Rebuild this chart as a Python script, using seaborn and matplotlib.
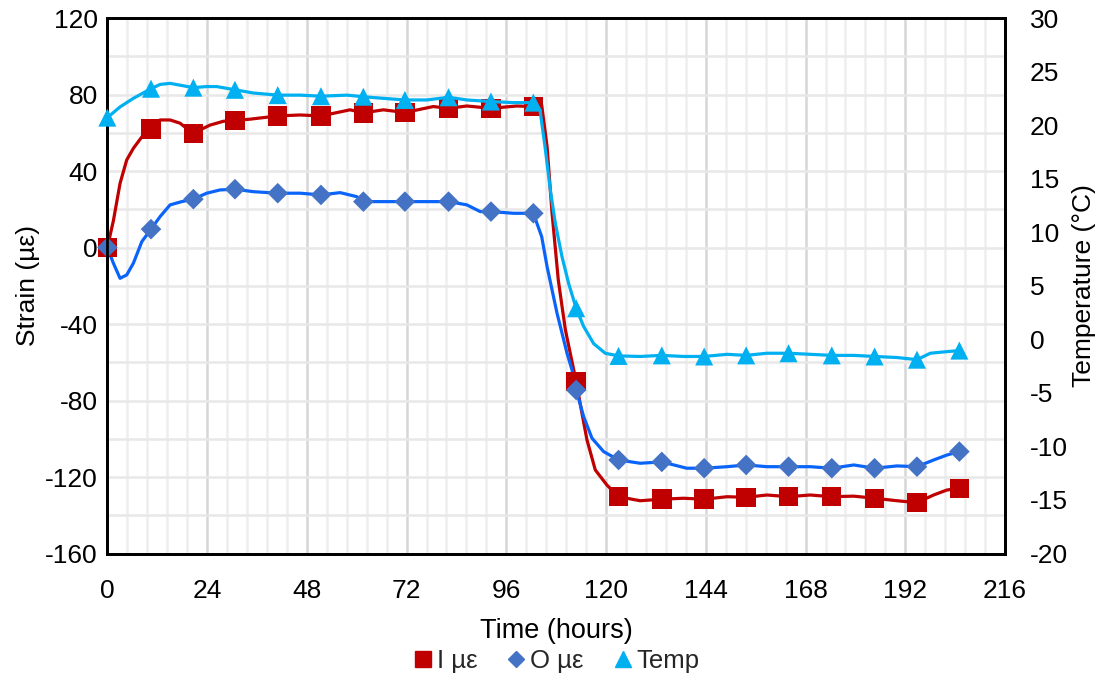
import matplotlib
matplotlib.use("Agg")
import matplotlib.pyplot as plt
import seaborn as sns
from matplotlib.lines import Line2D
from matplotlib.ticker import MultipleLocator

# ---- traces (hours, values) ----
I_hours = [0, 1.45, 3.06, 4.66, 6.27, 8.66, 10.5, 12.7, 15.1, 17.5, 20.7, 22.3, 24.7,
           27.9, 30.7, 34.3, 41.0, 46.4, 51.4, 58.4, 61.6, 66.4, 71.6, 78.4, 82.1, 86.5,
           92.3, 98.5, 102.5, 104.5, 105.8, 107.0, 108.5, 110.2, 112.8, 114.2, 115.4,
           117.4, 120.2, 123.0, 128.2, 133.4, 138.6, 143.6, 149.1, 153.7, 158.7, 163.9,
           169.1, 174.3, 179.6, 184.6, 190.0, 194.8, 198.8, 202.0, 205.0]
I_strain = [0, 14, 33.6, 45.8, 51.9, 58.9, 62.0, 66.7, 66.7, 65.0, 59.5, 61.5, 64.0,
            66.0, 66.4, 67.1, 68.8, 69.3, 68.8, 72.0, 70.4, 72.0, 70.6, 73.7, 72.8, 74.0,
            72.8, 74.0, 73.7, 74.6, 52.8, 17.9, -17.0, -43.0, -70.1, -86.7, -100.6,
            -116.3, -124.2, -130.3, -132.4, -131.6, -131.1, -131.6, -130.3, -130.6, -129.4,
            -130.3, -129.4, -130.3, -130.0, -131.1, -132.4, -133.4, -129.4, -126.8, -125.9]

O_hours = [0, 1.45, 3.06, 4.67, 6.26, 8.3, 10.5, 12.7, 15.1, 17.9, 20.7, 23.9, 27.1,
           30.7, 35.1, 41.0, 46.4, 51.4, 56.0, 60.0, 61.6, 66.4, 71.6, 76.9, 82.1, 86.5,
           89.7, 92.3, 97.7, 102.5, 104.5, 105.8, 107.0, 108.2, 109.4, 110.6, 111.8,
           112.8, 114.6, 116.6, 119.4, 123.0, 128.2, 133.4, 139.4, 143.6, 149.1, 153.7,
           158.7, 163.9, 169.1, 174.3, 179.6, 184.6, 190.0, 194.8, 198.8, 202.0, 205.0]
O_strain = [0, -8.2, -16.1, -14.3, -8.2, 3.1, 9.6, 16.2, 22.3, 24.0, 25.3, 28.4, 30.1,
            30.5, 29.2, 28.4, 28.4, 27.5, 28.7, 26.6, 24.0, 24.0, 24.0, 24.0, 24.0, 22.3,
            18.8, 18.8, 17.9, 17.9, 5.7, -10.0, -22.2, -34.4, -44.8, -55.3, -64.0,
            -74.5, -88.4, -99.7, -106.7, -111.1, -112.8, -112.1, -115.4, -115.4, -114.6,
            -113.7, -114.6, -114.6, -114.6, -115.4, -113.7, -115.4, -114.2, -114.6, -111.1,
            -108.5, -106.7]

T_hours = [0, 3.06, 6.26, 10.5, 12.7, 15.1, 17.9, 20.7, 23.9, 26.3, 30.7, 35.1, 41.0,
           46.4, 51.4, 57.7, 61.6, 66.4, 71.6, 76.9, 82.1, 86.5, 92.3, 97.7, 102.5, 104.1,
           105.3, 106.6, 107.8, 109.4, 111.0, 112.8, 114.6, 117.0, 119.8, 123.0, 128.2,
           133.4, 138.6, 143.6, 149.1, 153.7, 158.7, 163.9, 169.1, 174.3, 179.6, 184.6,
           190.0, 194.8, 198.0, 202.0, 205.0]
T_deg = [20.7, 21.7, 22.5, 23.4, 23.8, 23.9, 23.7, 23.5, 23.6, 23.6, 23.3, 23.0, 22.8,
         22.8, 22.7, 22.8, 22.65, 22.5, 22.35, 22.35, 22.6, 22.35, 22.2, 22.1, 22.1, 21.4,
         18.0, 13.9, 10.8, 7.7, 5.2, 2.9, 1.2, -0.4, -1.3, -1.55, -1.6, -1.5, -1.6, -1.6,
         -1.4, -1.5, -1.3, -1.3, -1.4, -1.5, -1.5, -1.6, -1.7, -1.9, -1.3, -1.15, -1.05]

# ---- marker points ----
mark_hours = [0, 10.5, 20.7, 30.7, 41.0, 51.4, 61.6, 71.6, 82.1, 92.3, 102.5, 112.8,
              123.0, 133.4, 143.6, 153.7, 163.9, 174.3, 184.6, 194.8, 205.0]
I_mark = [0, 62.0, 59.5, 66.4, 68.8, 68.8, 70.4, 70.6, 72.8, 72.8, 73.7, -70.1,
          -130.3, -131.6, -131.6, -130.6, -130.3, -130.3, -131.1, -133.4, -125.9]
O_mark = [0, 9.6, 25.3, 30.5, 28.4, 27.5, 24.0, 24.0, 24.0, 18.8, 17.9, -74.5,
          -111.1, -112.1, -115.4, -113.7, -114.6, -115.4, -115.4, -114.6, -106.7]
T_mark = [20.7, 23.4, 23.5, 23.3, 22.8, 22.7, 22.65, 22.35, 22.6, 22.2, 22.1, 2.9,
          -1.55, -1.5, -1.6, -1.5, -1.3, -1.5, -1.6, -1.9, -1.05]

x_ticks = [0, 24, 48, 72, 96, 120, 144, 168, 192, 216]
strain_ticks = [-160, -120, -80, -40, 0, 40, 80, 120]
temp_ticks = [-20, -15, -10, -5, 0, 5, 10, 15, 20, 25, 30]
labels = ["I µε", "O µε", "Temp"]

RED = "#C00000"
BLUE_LINE = "#0A64FA"
BLUE_MARK = "#4472C4"
CYAN = "#00B0F0"

sns.set_theme(style="white")
plt.rcParams["font.family"] = ["Liberation Sans", "DejaVu Sans"]
plt.rcParams["axes.unicode_minus"] = False

fig = plt.figure(figsize=(11.09, 6.8), dpi=100)
ax = fig.add_axes([0.0968, 0.186, 0.8095, 0.7875])
ax2 = ax.twinx()

# grid
ax.set_xlim(0, 216)
ax.set_ylim(-160, 120)
ax.set_xticks(x_ticks)
ax.set_yticks(strain_ticks)
ax.xaxis.set_minor_locator(MultipleLocator(4.8))
ax.yaxis.set_minor_locator(MultipleLocator(20))
ax.set_axisbelow(True)
ax.grid(which="minor", axis="x", color="#EEEEEE", lw=1.8)
ax.grid(which="major", axis="x", color="#D6D6D6", lw=1.8)
ax.grid(which="both", axis="y", color="#E8E8E8", lw=1.8)

# strain series
sns.lineplot(x=I_hours, y=I_strain, ax=ax, color=RED, lw=2.3, estimator=None, sort=False)
sns.scatterplot(x=mark_hours, y=I_mark, ax=ax, marker="s", s=14**2, color=RED,
                edgecolor="none", linewidth=0, zorder=3, clip_on=False)
sns.lineplot(x=O_hours, y=O_strain, ax=ax, color=BLUE_LINE, lw=2.3, estimator=None, sort=False)
sns.scatterplot(x=mark_hours, y=O_mark, ax=ax, marker="D", s=10.5**2, color=BLUE_MARK,
                edgecolor="none", linewidth=0, zorder=4, clip_on=False)

# temperature series
ax2.set_ylim(-20, 30)
ax2.set_yticks(temp_ticks)
sns.lineplot(x=T_hours, y=T_deg, ax=ax2, color=CYAN, lw=2.3, estimator=None, sort=False)
sns.scatterplot(x=mark_hours, y=T_mark, ax=ax2, marker="^", s=13**2, color=CYAN,
                edgecolor="none", linewidth=0, zorder=4, clip_on=False)
ax2.grid(False)

# frame & ticks
for a in (ax, ax2):
    for sp in a.spines.values():
        sp.set_visible(True)
        sp.set_color("black")
        sp.set_linewidth(2.0)
ax.tick_params(axis="both", which="both", length=0, labelsize=19, colors="black")
ax.tick_params(axis="x", pad=18)
ax.tick_params(axis="y", pad=7)
ax2.tick_params(axis="y", which="both", length=0, labelsize=19, pad=18, colors="black")

ax.set_xlabel("Time (hours)", fontsize=19.5, color="black")
ax.set_ylabel("Strain (µε)", fontsize=19, color="black")
ax2.set_ylabel("Temperature (°C)", fontsize=19, color="black")
ax.xaxis.set_label_coords(0.5, -0.12)
ax.yaxis.set_label_coords(-0.075, 0.5)
ax2.yaxis.set_label_coords(1.0746, 0.5)

handles = [
    Line2D([], [], marker="s", color=RED, linestyle="none", markersize=11),
    Line2D([], [], marker="D", color=BLUE_MARK, linestyle="none", markersize=8.5),
    Line2D([], [], marker="^", color=CYAN, linestyle="none", markersize=11),
]
fig.legend(handles, labels, loc="center", bbox_to_anchor=(555 / 1109, 1 - 661 / 680),
           ncol=3, frameon=False, fontsize=18.5, handletextpad=0.05, columnspacing=1.0,
           handlelength=1.0, borderaxespad=0)

fig.savefig("out.png", dpi=100)
